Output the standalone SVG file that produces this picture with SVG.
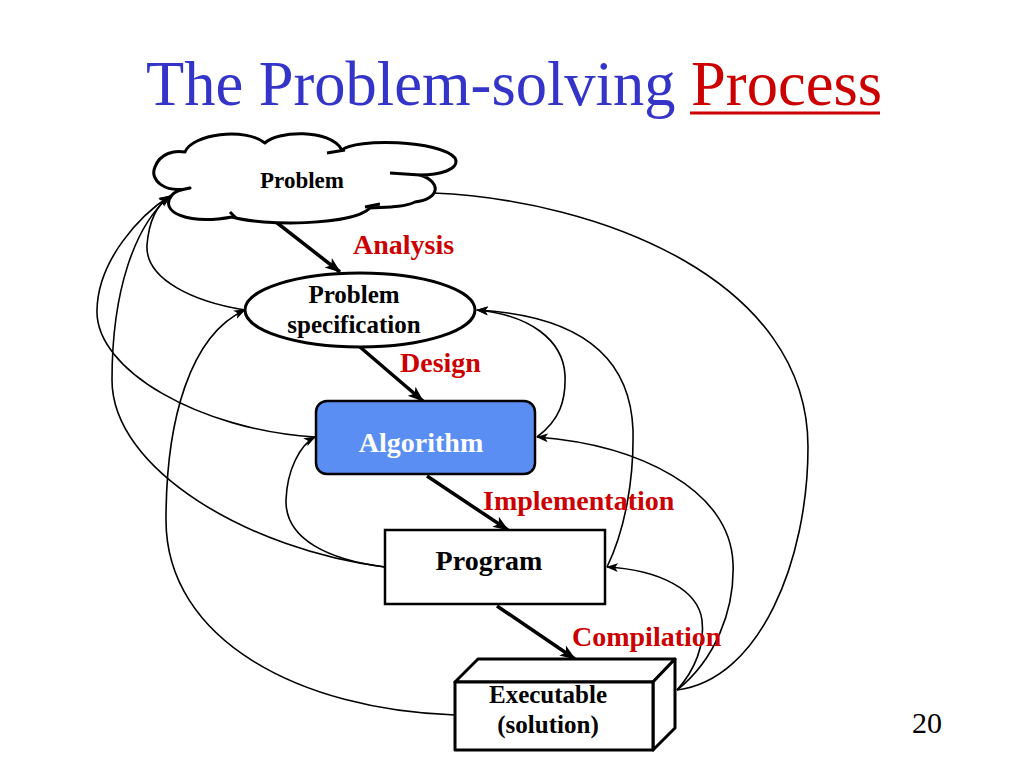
<svg xmlns="http://www.w3.org/2000/svg" width="1024" height="768" viewBox="0 0 1024 768">
<defs>
<style>
.t{font-family:"Liberation Serif","Times New Roman",serif;}
.b{font-weight:bold;}
.red{fill:#CC0000;}
.nd{fill:#fff;stroke:#000;stroke-width:3;stroke-linejoin:round;}
.main{stroke:#000;stroke-width:3.5;fill:none;}
.fb{stroke:#000;stroke-width:1.6;fill:none;}
</style>
<marker id="big" markerUnits="userSpaceOnUse" markerWidth="16" markerHeight="14" refX="15" refY="7" orient="auto">
<path d="M0,1 L16,7 L0,13 L4,7 Z" fill="#000"/>
</marker>
<marker id="sm" markerUnits="userSpaceOnUse" markerWidth="12" markerHeight="10" refX="11" refY="5" orient="auto">
<path d="M0,0.5 L12,5 L0,9.5 L3,5 Z" fill="#000"/>
</marker>
</defs>
<rect width="1024" height="768" fill="#fff"/>

<g id="title">
<text class="t" x="146" y="105" font-size="62.5" fill="#3434C8">The Problem-solving <tspan fill="#CC0000">Process</tspan></text>
<line x1="690" y1="113" x2="880" y2="113" stroke="#CC0000" stroke-width="3"/>
</g>

<g id="connectors">
<path class="main" d="M267,215 L340,272" marker-end="url(#big)"/>
<path class="main" d="M360,347 L423,401" marker-end="url(#big)"/>
<path class="main" d="M427,476 L508,530" marker-end="url(#big)"/>
<path class="main" d="M497,606 L575,659" marker-end="url(#big)"/>
<path class="fb" d="M245,310 C195,302 145,280 147,245 C149,220 158,204 170,196" marker-end="url(#sm)"/>
<path class="fb" d="M315,437 C200,430 95,370 97,310 C98,260 140,215 170,196" marker-end="url(#sm)"/>
<path class="fb" d="M385,567 C250,550 112,470 112,380 C112,290 135,225 170,196" marker-end="url(#sm)"/>
<path class="fb" d="M455,715 C300,710 166,640 166,520 C166,420 190,335 245,310" marker-end="url(#sm)"/>
<path class="fb" d="M385,567 C330,560 285,540 286,500 C287,470 300,445 315,437" marker-end="url(#sm)"/>
<path class="fb" d="M677,690 C760,680 808,560 808,447 C808,280 600,200 433,193"/>
<path class="fb" d="M537,437 C560,420 566,400 565,375 C563,340 530,315 477,310" marker-end="url(#sm)"/>
<path class="fb" d="M607,567 C625,530 634,480 633,430 C630,350 570,315 477,310" marker-end="url(#sm)"/>
<path class="fb" d="M677,690 C715,660 735,610 733,563 C730,490 640,445 537,437" marker-end="url(#sm)"/>
<path class="fb" d="M677,690 C695,670 705,645 702,620 C698,590 660,570 607,567" marker-end="url(#sm)"/>
</g>

<g id="problem">
<path class="nd" d="M190,188 C165,194 149,180 155,167 C160,153 175,150 185,152 C192,134 245,127 265,143 C276,131 330,128 342,150 C355,138 440,140 455,158 C461,170 438,175 420,175 C442,182 440,199 415,202 C402,208 385,207 370,208 C352,226 262,226 232,217 C188,225 158,212 172,195 C176,190 184,189 190,188 Z"/>
<path d="M327,153 L345,150 M390,173 L420,175 M365,207 L380,204 M230,212 L236,218" stroke="#000" stroke-width="3" fill="none"/>
<text class="t b" x="302" y="188" font-size="23" text-anchor="middle">Problem</text>
</g>

<g id="spec">
<ellipse class="nd" cx="360" cy="310" rx="115" ry="37"/>
<text class="t b" x="354" y="303" font-size="25" text-anchor="middle">Problem</text>
<text class="t b" x="354" y="333" font-size="25" text-anchor="middle">specification</text>
</g>

<g id="algorithm">
<rect x="316" y="401" width="219" height="73" rx="11" fill="#5B8EF2" stroke="#000" stroke-width="2.5"/>
<text class="t b" x="421" y="452" font-size="28" text-anchor="middle" fill="#fff">Algorithm</text>
</g>

<g id="program">
<rect x="385" y="530" width="220" height="74" fill="#fff" stroke="#000" stroke-width="2.5"/>
<text class="t b" x="489" y="570" font-size="28" text-anchor="middle">Program</text>
</g>

<g id="executable">
<polygon class="nd" points="455,682 478,659 675,659 653,682"/>
<polygon class="nd" points="653,682 675,659 675,728 653,750"/>
<rect class="nd" x="455" y="682" width="198" height="68"/>
<text class="t b" x="548" y="703" font-size="25" text-anchor="middle">Executable</text>
<text class="t b" x="548" y="733" font-size="25" text-anchor="middle">(solution)</text>
</g>

<g id="labels">
<text class="t b red" x="353" y="254" font-size="28">Analysis</text>
<text class="t b red" x="400" y="372" font-size="28">Design</text>
<text class="t b red" x="483" y="510" font-size="28">Implementation</text>
<text class="t b red" x="572" y="646" font-size="28">Compilation</text>
</g>

<g id="page">
<text class="t" x="912" y="733" font-size="30">20</text>
</g>
</svg>
